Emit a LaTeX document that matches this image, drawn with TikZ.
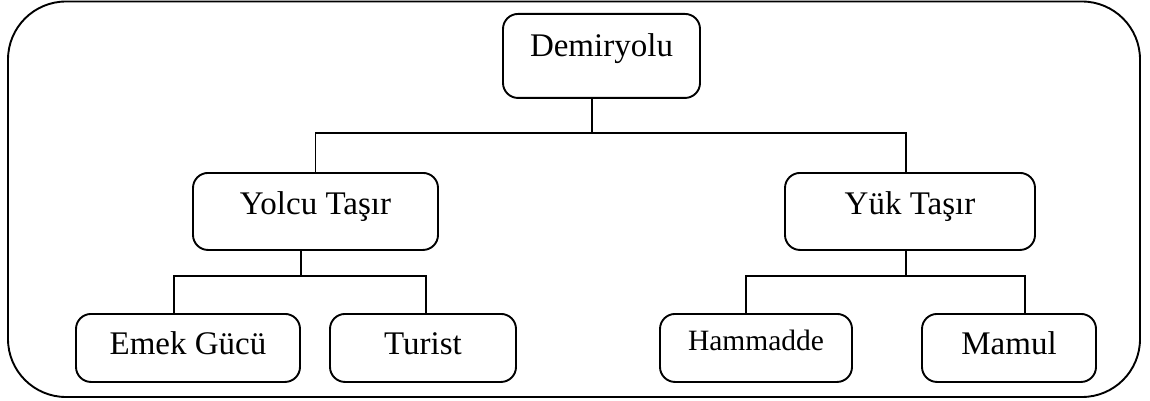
\documentclass[tikz,border=0pt]{standalone}
\usepackage{fontspec}
\setmainfont{Liberation Serif}
\usetikzlibrary{calc}
\begin{document}
\begin{tikzpicture}[x=1pt,y=-1pt,
  line width=1.9pt,
  box/.style={draw, rounded corners=15pt, inner sep=0pt, anchor=north,
    font=\fontsize{33}{37}\selectfont},
  toprow/.style={box, text height=43pt, text depth=41pt},
  midrow/.style={box, text height=42pt, text depth=35pt},
  lowrow/.style={box, text height=41pt, text depth=27pt}]
\useasboundingbox (0,0) rectangle (1150,401);

% outer frame
\draw[rounded corners=58pt] (8,1.5) rectangle (1140,397);

% boxes
\node[toprow, minimum width=197pt] (demir) at (601.5,13) {Demiryolu};
\node[midrow, minimum width=245pt] (yolcu) at (315.5,172) {Yolcu Taşır};
\node[midrow, minimum width=250pt] (yuk) at (910,172) {Yük Taşır};
\node[lowrow, minimum width=224pt] (emek) at (188,313) {Emek Gücü};
\node[lowrow, minimum width=186pt] (turist) at (423,313) {Turist};
\node[lowrow, minimum width=192pt, text height=37pt, text depth=31pt,
      font=\fontsize{29.5}{33}\selectfont] (ham) at (756,313) {Hammadde};
\node[lowrow, minimum width=174pt] (mamul) at (1009,313) {Mamul};

% junction points of the connectors
\coordinate (j0) at (592,133);
\coordinate (j1) at (301,276);
\coordinate (j2) at (906,276);

% connectors
\draw (j0 |- demir.south) -- (j0);
\draw (yolcu.north) |- (j0) -| ([xshift=-4pt]yuk.north);

\draw (j1 |- yolcu.south) -- (j1);
\draw ([xshift=-14pt]emek.north) |- (j1) -| ([xshift=3pt]turist.north);

\draw (j2 |- yuk.south) -- (j2);
\draw ([xshift=-10pt]ham.north) |- (j2) -| ([xshift=16pt]mamul.north);
\end{tikzpicture}
\end{document}
